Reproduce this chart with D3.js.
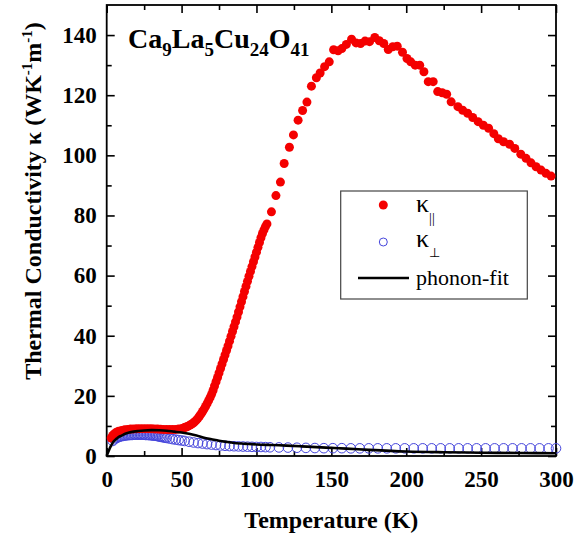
<!DOCTYPE html>
<html>
<head>
<meta charset="utf-8">
<script src="https://cdn.jsdelivr.net/npm/d3@7"></script>
<style>
  html, body { margin: 0; padding: 0; background: #fff; }
  svg { display: block; }
  text { font-family: "Liberation Serif", "Times New Roman", serif; }
</style>
</head>
<body>
<svg id="chart" width="587" height="540"></svg>
<script>
// ---------- data ----------
// kappa parallel (red filled dots): temperature (K)
const parT = [3,4,5,6,7,8,10,12,14,16,18,20,22,24,26,28,30,32,34,36,38,40,42,44,46,48,50,
  51,52,53,54,55,56,57,58,59,60,61,62,63,64,65,66,67,68,69,70,71,72,73,74,75,76,77,78,79,80,
  81,82,83,84,85,86,87,88,89,90,91,92,93,94,95,96,97,98,99,100,101,102,103,104,105,106,107,
  110,113,116,118.5,122,124.7,127.8,130.8,133.7,136.7,140,142.5,145.5,148.6,151.5,154.5,157,
  160,163.5,166.5,169.5,172.5,175.5,179,182,185,188,191,194,197.5,200.5,203,206,209,211.8,
  214.7,218,221,224,227,230,234.5,237.7,241,244.4,248,251.5,255,258.5,261.5,265,269,272.5,
  276.5,280,283.3,286.7,290,293.3,296.7];
const parK = [6.0,6.8,7.3,7.7,8.0,8.2,8.5,8.7,8.85,8.95,9.0,9.05,9.1,9.1,9.1,9.1,9.05,9.0,8.95,8.9,8.85,8.8,8.8,8.8,8.85,8.95,9.1,
  9.25,9.45,9.65,9.85,10.1,10.4,10.7,11.0,11.5,12.0,12.6,13.3,14.0,14.8,15.6,16.5,17.4,18.4,19.4,20.5,21.8,23.3,24.7,26.1,27.6,29.1,30.6,32.1,33.6,35.1,
  36.6,38.2,39.8,41.4,43.0,44.6,46.2,47.9,49.6,51.3,53.0,54.7,56.4,58.1,59.8,61.4,63.0,64.6,66.2,67.8,69.4,71.0,72.6,74.0,75.2,76.3,77.2,
  81.2,86.6,91.1,97.3,102.7,106.8,111.7,114.9,117.7,123.0,125.8,127.4,129.5,131.1,135.1,134.8,135.5,
  136.9,138.6,137.4,137.2,138.0,137.8,139.2,138.1,137.2,135.2,136.1,136.3,134.3,132.2,131.1,130.0,130.0,127.8,
  124.5,124.5,121.2,120.8,120.3,117.8,116.2,115.0,114.0,112.6,111.2,110.0,109.0,107.2,105.5,104.5,103.7,102.3,
  100.4,99.0,97.5,96.2,95.1,94.0,93.1];

// kappa perpendicular (blue open circles)
const perT = [4,5,6,7,8,9,10,11,12,13,14,15,16,17,18,19,20,21,22,23,24,25,26,27,28,29,30,31,32,33,34,35,36,37,38,39,40,
  42,44,46,48,50,52,55,58,61,64,67,70,73,76,79,82,85,88,91,94,97,100,103,106,109,
  115,121,127,133,139,145,151,157,163,169,175,181,187,193,199,205,211,217,223,229,235,241,247,253,259,265,271,277,283,289,295,300];
const perK = [5.0,5.5,5.9,6.1,6.3,6.5,6.6,6.7,6.8,6.9,6.9,7.0,7.0,7.0,7.1,7.1,7.1,7.1,7.1,7.1,7.1,7.1,7.0,7.0,7.0,6.9,6.9,6.8,6.8,6.7,6.6,6.5,6.4,6.3,6.2,6.1,6.0,
  5.8,5.6,5.45,5.3,5.15,5.0,4.75,4.5,4.3,4.15,3.95,3.8,3.65,3.5,3.4,3.3,3.25,3.2,3.15,3.1,3.05,3.0,3.0,2.95,2.9,
  2.85,2.8,2.75,2.7,2.65,2.6,2.6,2.6,2.55,2.55,2.55,2.55,2.55,2.55,2.55,2.55,2.55,2.55,2.55,2.55,2.55,2.55,2.55,2.55,2.55,2.55,2.55,2.55,2.55,2.55,2.55,2.55];

// phonon fit (black line)
const fitT = [0,1,2,3,4,5,6,7,8,10,12,15,18,21,25,30,35,40,45,50,55,60,65,70,75,80,85,90,95,100,110,120,130,140,150,160,175,200,225,250,275,300];
const fitK = [0,1.3,2.5,3.5,4.4,5.0,5.5,5.9,6.3,6.8,7.3,7.8,8.1,8.3,8.5,8.6,8.55,8.4,8.1,7.8,7.4,6.8,6.1,5.6,5.1,4.7,4.35,4.15,4.0,3.85,3.65,3.45,3.2,2.95,2.7,2.45,2.05,1.5,1.25,1.1,1.0,0.9];

const xMajor = [0,50,100,150,200,250,300];
const xMinor = [25,75,125,175,225,275];
const yMajor = [0,20,40,60,80,100,120,140];
const yMinor = [10,30,50,70,90,110,130];

// ---------- drawing ----------
const svg = d3.select("#chart");
const L = 106.7, R = 556, T = 5, B = 456;
const x = d3.scaleLinear().domain([0,300]).range([L,R]);
const y = d3.scaleLinear().domain([0,150]).range([B,T]);
const FONT = '"Liberation Serif", "Times New Roman", serif';

function styleAxis(g, fs) {
  g.select(".domain").remove();
  g.selectAll(".tick line").attr("stroke","#000").attr("stroke-width",1.6);
  g.selectAll(".tick text").attr("font-family",FONT).attr("font-weight","bold")
    .attr("font-size",fs).attr("fill","#000");
}

// bottom
svg.append("g").attr("transform",`translate(0,${B})`)
  .call(d3.axisBottom(x).tickValues(xMajor).tickFormat(d3.format("d")).tickSizeInner(-8).tickSizeOuter(0).tickPadding(15))
  .call(g=>styleAxis(g,23));
svg.append("g").attr("transform",`translate(0,${B})`)
  .call(d3.axisBottom(x).tickValues(xMinor).tickFormat("").tickSizeInner(-5).tickSizeOuter(0))
  .call(g=>styleAxis(g,23));
// top
svg.append("g").attr("transform",`translate(0,${T})`)
  .call(d3.axisTop(x).tickValues(xMajor).tickFormat("").tickSizeInner(-8).tickSizeOuter(0))
  .call(g=>styleAxis(g,23));
svg.append("g").attr("transform",`translate(0,${T})`)
  .call(d3.axisTop(x).tickValues(xMinor).tickFormat("").tickSizeInner(-5).tickSizeOuter(0))
  .call(g=>styleAxis(g,23));
// left
svg.append("g").attr("transform",`translate(${L},0)`)
  .call(d3.axisLeft(y).tickValues(yMajor).tickFormat(d3.format("d")).tickSizeInner(-8).tickSizeOuter(0).tickPadding(10))
  .call(g=>styleAxis(g,23));
svg.append("g").attr("transform",`translate(${L},0)`)
  .call(d3.axisLeft(y).tickValues(yMinor).tickFormat("").tickSizeInner(-5).tickSizeOuter(0))
  .call(g=>styleAxis(g,23));
// right
svg.append("g").attr("transform",`translate(${R},0)`)
  .call(d3.axisRight(y).tickValues(yMajor).tickFormat("").tickSizeInner(-8).tickSizeOuter(0))
  .call(g=>styleAxis(g,23));
svg.append("g").attr("transform",`translate(${R},0)`)
  .call(d3.axisRight(y).tickValues(yMinor).tickFormat("").tickSizeInner(-5).tickSizeOuter(0))
  .call(g=>styleAxis(g,23));

// frame
svg.append("rect").attr("x",L).attr("y",T).attr("width",R-L).attr("height",B-T)
  .attr("fill","none").attr("stroke","#000").attr("stroke-width",1.8);

// data
const plot = svg.append("g");
plot.selectAll("circle.per").data(perT.map((t,i)=>[t,perK[i]])).join("circle")
  .attr("class","per").attr("cx",d=>x(d[0])).attr("cy",d=>y(d[1])).attr("r",4.8)
  .attr("fill","none").attr("stroke","#4646dc").attr("stroke-width",1);
plot.selectAll("circle.par").data(parT.map((t,i)=>[t,parK[i]])).join("circle")
  .attr("class","par").attr("cx",d=>x(d[0])).attr("cy",d=>y(d[1])).attr("r",4.5)
  .attr("fill","#f40000");
const line = d3.line().x(d=>x(d[0])).y(d=>y(d[1])).curve(d3.curveMonotoneX);
plot.append("path").datum(fitT.map((t,i)=>[t,fitK[i]])).attr("d",line)
  .attr("fill","none").attr("stroke","#000").attr("stroke-width",2.6);

// title (formula)
const title = svg.append("text").attr("x",128).attr("y",48)
  .attr("font-family",FONT).attr("font-weight","bold").attr("font-size",28).attr("fill","#000");
const parts = [["Ca","9"],["La","5"],["Cu","24"],["O","41"]];
parts.forEach((p,i)=>{
  title.append("tspan").attr("dy", i===0?0:-8).text(p[0]);
  title.append("tspan").attr("dy",8).attr("font-size",19).text(p[1]);
});

// axis titles
svg.append("text").attr("x",(L+R)/2).attr("y",528).attr("text-anchor","middle")
  .attr("font-family",FONT).attr("font-weight","bold").attr("font-size",24).text("Temperature (K)");
const yt = svg.append("text").attr("transform","translate(41,201) rotate(-90)").attr("text-anchor","middle")
  .attr("font-family",FONT).attr("font-weight","bold").attr("font-size",24);
yt.append("tspan").text("Thermal Conductivity κ (WK");
yt.append("tspan").attr("dy",-9).attr("font-size",15).text("-1");
yt.append("tspan").attr("dy",9).text("m");
yt.append("tspan").attr("dy",-9).attr("font-size",15).text("-1");
yt.append("tspan").attr("dy",9).text(")");

// legend
const lg = svg.append("g");
lg.append("rect").attr("x",340.7).attr("y",191).attr("width",186.6).attr("height",108)
  .attr("fill","#fff").attr("stroke","#444").attr("stroke-width",1.2);
lg.append("circle").attr("cx",383.3).attr("cy",205).attr("r",4.5).attr("fill","#f40000");
lg.append("circle").attr("cx",383.3).attr("cy",242).attr("r",4).attr("fill","none").attr("stroke","#4646dc").attr("stroke-width",1);
lg.append("line").attr("x1",358).attr("x2",409).attr("y1",278).attr("y2",278).attr("stroke","#000").attr("stroke-width",2.6);
const k1 = lg.append("text").attr("x",416).attr("y",212).attr("font-family",FONT).attr("font-size",26).attr("fill","#000");
k1.append("tspan").text("κ");
k1.append("tspan").attr("dy",11).attr("font-size",14).text("||");
const k2 = lg.append("text").attr("x",416).attr("y",247).attr("font-family",FONT).attr("font-size",26).attr("fill","#000");
k2.append("tspan").text("κ");
k2.append("tspan").attr("dy",10).attr("font-size",13).text("⊥");
lg.append("text").attr("x",416).attr("y",285).attr("font-family",FONT).attr("font-size",22).attr("fill","#000").text("phonon-fit");
</script>
</body>
</html>
